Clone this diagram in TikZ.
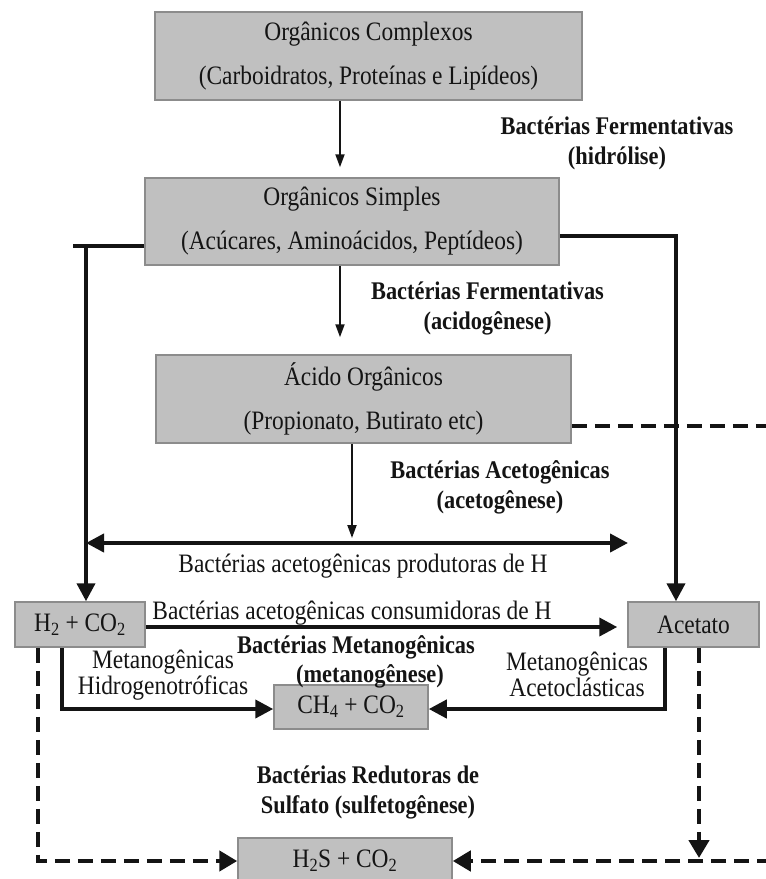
\documentclass[tikz,border=0pt]{standalone}
\usepackage{fontspec}
\setmainfont{Liberation Serif}[FakeStretch=0.88]
\usetikzlibrary{arrows.meta}
\definecolor{boxfill}{HTML}{C0C0C0}
\definecolor{boxline}{HTML}{8C8C8C}
\definecolor{ink}{HTML}{141414}
\tikzset{
  box/.style={draw=boxline, line width=1.5pt, fill=boxfill, align=center, inner sep=0pt,
    font=\fontsize{26.6}{44}\selectfont, text=ink},
  lbl/.style={align=center, inner sep=0pt, font=\fontsize{26.6}{26}\selectfont, text=ink},
  blbl/.style={align=center, inner sep=0pt, font=\bfseries\fontsize{25.4}{29.5}\selectfont, text=ink},
  thinarrow/.style={draw=ink, line width=2pt, -{Triangle[length=13pt,width=9pt]}},
  thickl/.style={draw=ink, line width=4pt},
  thicka/.style={thickl, -{Triangle[length=18pt,width=18pt]}},
  dashl/.style={draw=ink, line width=4.5pt, dash pattern=on 15pt off 8pt},
  dasha/.style={dashl, -{Triangle[length=18pt,width=20pt]}},
}
\begin{document}
\begin{tikzpicture}[x=1pt,y=-1pt]
\fill[white] (0,0) rectangle (766,879);
\useasboundingbox (0,0) rectangle (766,879);

% boxes
\node[box, minimum width=427pt, minimum height=88pt] (oc) at (368.5,56) {Orgânicos Complexos\\(Carboidratos, Proteínas e Lipídeos)};
\node[box, minimum width=414pt, minimum height=87pt] (os) at (352,221.5) {Orgânicos Simples\\(Acúcares, Aminoácidos, Peptídeos)};
\node[box, minimum width=415pt, minimum height=88pt] (ao) at (363.5,399) {Ácido Orgânicos\\(Propionato, Butirato etc)};
\node[box, minimum width=130pt, minimum height=45pt] (h2) at (80,624.5) {H\textsubscript{2} + CO\textsubscript{2}};
\node[box, minimum width=131pt, minimum height=45pt] (ac) at (693.5,624.5) {Acetato};
\node[box, minimum width=154pt, minimum height=44pt] (ch4) at (351,707) {CH\textsubscript{4} + CO\textsubscript{2}};
\node[box, minimum width=214pt, minimum height=46pt] (h2s) at (345,861) {H\textsubscript{2}S + CO\textsubscript{2}};

% coordinates
\coordinate (xa) at (340,0);
\coordinate (xb) at (352,538);
\coordinate (dl) at (86,543);
\coordinate (dr) at (628,543);
\coordinate (L1) at (73,246);
\coordinate (L2) at (86,246);
\coordinate (R1) at (676,236);
\coordinate (E1) at (772,426);
\coordinate (C1) at (0,627);
\coordinate (M1) at (62,709);
\coordinate (M2) at (665,709);
\coordinate (D1) at (38,861);
\coordinate (D2) at (699,858);
\coordinate (E2) at (772,861);

% connectors
\draw[thinarrow, shorten >=10pt] (xa |- oc.south) -- (xa |- os.north);
\draw[thinarrow, shorten >=17pt] (xa |- os.south) -- (xa |- ao.north);
\draw[thinarrow] (xb |- ao.south) -- (xb);
\draw[thickl, {Triangle[length=18pt,width=18pt]}-{Triangle[length=18pt,width=18pt]}] (dl) -- (dr);
\draw[thickl] (os.west |- L1) -- (L1);
\draw[thicka] (L2) -- (L2 |- h2.north);
\draw[thicka] (os.east |- R1) -- (R1) -- (R1 |- ac.north);
\draw[dashl] (ao.east |- E1) -- (E1);
\draw[thicka, shorten >=10pt] (h2.east |- C1) -- (ac.west |- C1);
\draw[thicka] (M1 |- h2.south) -- (M1) -- (M1 -| ch4.west);
\draw[thicka] (M2 |- ac.south) -- (M2) -- (M2 -| ch4.east);
\draw[dasha] (D1 |- h2.south) -- (D1) -- (D1 -| h2s.west);
\draw[dasha] (D2 |- ac.south) -- (D2);
\draw[dasha] (E2) -- (E2 -| h2s.east);

% labels
\node[blbl] (l1) at (617,143.5) {Bactérias Fermentativas\\(hidrólise)};
\node[blbl] (l2) at (487.5,308.5) {Bactérias Fermentativas\\(acidogênese)};
\node[blbl] (l3) at (500,487.5) {Bactérias Acetogênicas\\(acetogênese)};
\node[lbl] (l4) at (363,566) {Bactérias acetogênicas produtoras de H};
\node[lbl] (l5) at (352,613) {Bactérias acetogênicas consumidoras de H};
\node[lbl] (l6) at (163,675) {Metanogênicas\\Hidrogenotróficas};
\node[lbl] (l7) at (577,674) {Metanogênicas\\Acetoclásticas};
\node[blbl] (l8) at (356,647) {Bactérias Metanogênicas};
\node[blbl] (l9) at (370,676) {(metanogênese)};
\node[blbl] (l10) at (368,792.5) {Bactérias Redutoras de\\Sulfato (sulfetogênese)};
\end{tikzpicture}
\end{document}
